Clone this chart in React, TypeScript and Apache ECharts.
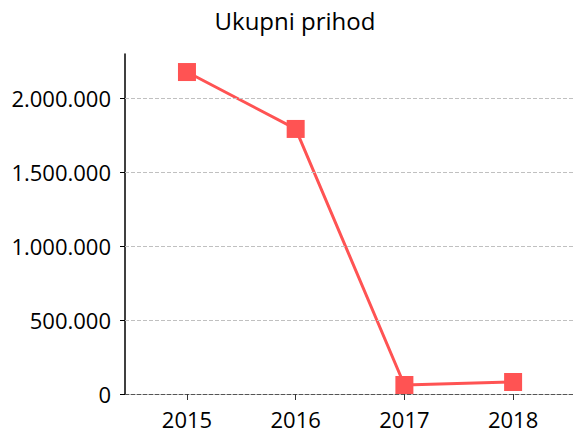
import React, { useEffect, useRef } from "react";
import * as echarts from "echarts";

const years = [2015, 2016, 2017, 2018];
const revenue = [2178000, 1793000, 61000, 81000];
const yTicks = [0, 500000, 1000000, 1500000, 2000000];
const titleText = "Ukupni prihod";

const fmt = (v: number) => String(Math.round(v)).replace(/\B(?=(\d{3})+(?!\d))/g, ".");

export default function App() {
  const ref = useRef<HTMLDivElement>(null);
  useEffect(() => {
    if (!ref.current) return;
    const chart = echarts.init(ref.current, undefined, { renderer: "svg" });
    const font = "'Open Sans', 'Noto Sans', sans-serif";
    chart.setOption({
      animation: false,
      backgroundColor: "#ffffff",
      title: {
        text: titleText,
        left: 290,
        textAlign: "center",
        top: 3,
        textStyle: { fontFamily: font, fontSize: 24, fontWeight: "normal", color: "#000" },
      },
      grid: { left: 125, right: 0, top: 54, bottom: 44, containLabel: false },
      xAxis: {
        type: "value",
        min: 2014.43,
        max: 2018.551,
        splitLine: { show: false },
        axisLine: { show: true, onZero: false, lineStyle: { color: "#555", type: "dashed", width: 1 } },
        axisTick: { show: true, length: 6, customValues: years, lineStyle: { color: "#333" } },
        axisLabel: {
          customValues: years,
          formatter: (v: number) => String(v),
          margin: 14,
          fontFamily: font,
          fontSize: 22,
          color: "#000",
        },
      },
      yAxis: {
        type: "value",
        min: 0,
        max: 2300000,
        axisLine: { show: true, onZero: false, lineStyle: { color: "#000", width: 1.5 } },
        axisTick: { show: true, length: 5, customValues: yTicks, lineStyle: { color: "#000" } },
        axisLabel: {
          customValues: yTicks,
          formatter: (v: number) => fmt(v),
          margin: 14,
          fontFamily: font,
          fontSize: 22,
          color: "#000",
        },
        splitLine: { show: false },
      },
      series: [
        {
          type: "line",
          data: years.map((y, i) => [y, revenue[i]]),
          symbol: "rect",
          symbolSize: 18,
          lineStyle: { color: "#ff5353", width: 3 },
          itemStyle: { color: "#ff5353" },
          markLine: {
            silent: true,
            symbol: "none",
            label: { show: false },
            lineStyle: { color: "#c0c0c0", type: "dashed", width: 1 },
            data: yTicks.filter((t) => t > 0).map((t) => ({ yAxis: t })),
          },
          z: 3,
        },
      ],
    });
    return () => chart.dispose();
  }, []);
  return <div ref={ref} style={{ width: 573, height: 438, position: "absolute", left: 0, top: 0 }} />;
}
